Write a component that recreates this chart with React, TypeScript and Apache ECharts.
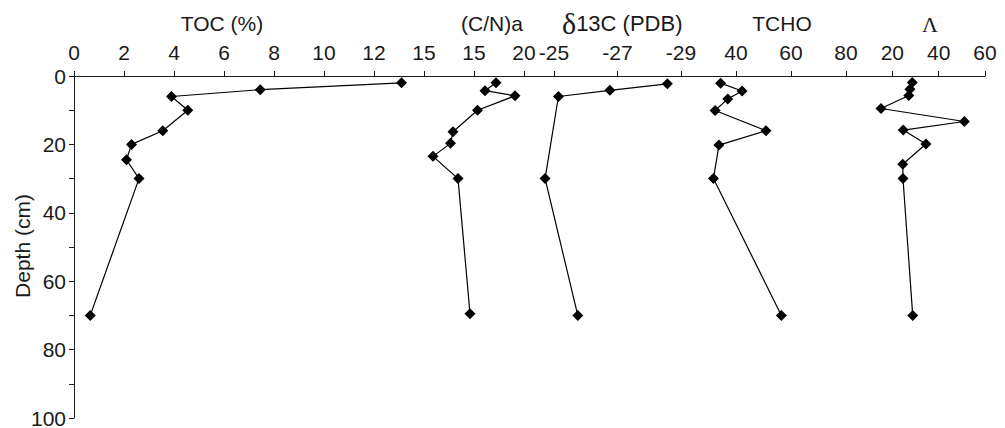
import React, { useEffect, useRef } from 'react';
import * as echarts from 'echarts';

// ---- data (depth in cm) ----
const tocDepth = [2, 4, 6, 10, 16, 20, 24.5, 30, 70];
const tocValues = [13.1, 7.45, 3.9, 4.55, 3.55, 2.3, 2.1, 2.6, 0.65];

const cnDepth = [2, 4.3, 5.8, 10, 16.3, 19.7, 23.5, 30, 69.5];
const cnValues = [17.2, 16.1, 19.1, 15.35, 12.9, 12.65, 10.9, 13.4, 14.6];

const d13cDepth = [2.3, 4.2, 6, 30, 70];
const d13cValues = [-28.57, -26.76, -25.14, -24.72, -25.75];

const tchoDepth = [2.1, 4.4, 6.7, 10.1, 16, 20.2, 30, 70];
const tchoValues = [34.4, 42.2, 37, 32.4, 50.9, 33.8, 31.8, 56.5];

const lambdaDepth = [1.9, 3.9, 5.7, 9.5, 13.3, 15.8, 19.9, 25.8, 30, 70];
const lambdaValues = [28.6, 27.6, 27.1, 15.1, 51.1, 24.7, 34.5, 24.5, 24.6, 28.8];

// ---- tick labels (value -> text) ----
const tocTickLabels: [number, string][] = [[0, '0'], [2, '2'], [4, '4'], [6, '6'], [8, '8'], [10, '10'], [12, '12']];
const cnTickLabels: [number, string][] = [[10, '15'], [15, '15'], [20, '20']];
const d13cTicks = [-29, -27, -25];
const d13cTickLabels: [number, string][] = [[-25, '-25'], [-27, '-27'], [-29, '-29']];
const tchoTickLabels: [number, string][] = [[40, '40'], [60, '60'], [80, '80']];
const lambdaTickLabels: [number, string][] = [[20, '20'], [40, '40'], [60, '60']];
const depthTickLabels: [number, string][] = [[0, '0'], [20, '20'], [40, '40'], [60, '60'], [80, '80'], [100, '100']];

const SANS = '"Liberation Sans", Arial, sans-serif';
const SERIF = '"Liberation Serif", "Times New Roman", serif';
const INK = '#1a1a1a';

function labeler(pairs: [number, string][]) {
  return (v: number) => {
    const p = pairs.find((q) => Math.abs(q[0] - v) < 1e-6);
    return p ? p[1] : '';
  };
}

function zip(xs: number[], ys: number[]) {
  return xs.map((x, i) => [x, ys[i]]);
}

export default function App() {
  const ref = useRef<HTMLDivElement>(null);
  useEffect(() => {
    if (!ref.current) return;
    const chart = echarts.init(ref.current, undefined, { renderer: 'svg' });

    const top = 76;
    const height = 342;
    const panels: any[] = [
      { left: 74, width: 350, min: 0, max: 14, interval: 2, inverse: false, labels: tocTickLabels, xs: tocValues, ys: tocDepth },
      { left: 424, width: 130, min: 10, max: 23, interval: 5, inverse: false, labels: cnTickLabels, xs: cnValues, ys: cnDepth },
      { left: 538.1, width: 142.9, min: -29, max: -24.5, interval: 2, inverse: true, labels: d13cTickLabels, xs: d13cValues, ys: d13cDepth, custom: d13cTicks },
      { left: 681, width: 165, min: 20, max: 80, interval: 20, inverse: false, labels: tchoTickLabels, xs: tchoValues, ys: tchoDepth },
      { left: 846, width: 139, min: 0, max: 60, interval: 20, inverse: false, labels: lambdaTickLabels, xs: lambdaValues, ys: lambdaDepth },
    ];

    const axisLineStyle = { color: INK, width: 1 };

    const option: any = {
      animation: false,
      backgroundColor: '#ffffff',
      textStyle: { fontFamily: SANS },
      grid: panels.map((p) => ({
        left: p.left,
        width: p.width,
        top,
        height,
        containLabel: false,
        outerBoundsMode: 'none',
      })),
      xAxis: panels.map((p, i) => {
        const tick: any = { show: true, inside: false, length: 5, lineStyle: axisLineStyle };
        const label: any = {
          show: true,
          margin: 13,
          fontSize: 21,
          fontFamily: SANS,
          color: INK,
          formatter: labeler(p.labels),
        };
        if (p.custom) {
          tick.customValues = p.custom;
          label.customValues = p.custom;
        }
        return {
          type: 'value',
          gridIndex: i,
          position: 'top',
          min: p.min,
          max: p.max,
          interval: p.interval,
          inverse: p.inverse,
          axisLine: { show: true, onZero: false, lineStyle: axisLineStyle },
          axisTick: tick,
          axisLabel: label,
          splitLine: { show: false },
        };
      }),
      yAxis: panels.map((p, i) => ({
        type: 'value',
        gridIndex: i,
        min: 0,
        max: 100,
        interval: 10,
        inverse: true,
        show: i === 0,
        axisLine: { show: true, onZero: false, lineStyle: axisLineStyle },
        axisTick: { show: true, inside: false, length: 5, lineStyle: axisLineStyle },
        axisLabel: {
          show: true,
          margin: 8,
          fontSize: 21,
          fontFamily: SANS,
          color: INK,
          formatter: labeler(depthTickLabels),
        },
        splitLine: { show: false },
      })),
      series: panels.map((p, i) => ({
        type: 'line',
        xAxisIndex: i,
        yAxisIndex: i,
        data: zip(p.xs, p.ys),
        clip: false,
        symbol: 'diamond',
        symbolSize: 11,
        showSymbol: true,
        itemStyle: { color: '#000' },
        lineStyle: { color: '#000', width: 1.2 },
      })),
      graphic: [
        { type: 'text', x: 22, y: 246, rotation: Math.PI / 2, style: { text: 'Depth (cm)', font: `21px ${SANS}`, fill: INK, textAlign: 'center', textVerticalAlign: 'middle' } },
        { type: 'text', x: 222, y: 23, style: { text: 'TOC (%)', font: `21px ${SANS}`, fill: INK, textAlign: 'center', textVerticalAlign: 'middle' } },
        { type: 'text', x: 492, y: 23, style: { text: '(C/N)a', font: `21px ${SANS}`, fill: INK, textAlign: 'center', textVerticalAlign: 'middle' } },
        {
          type: 'text',
          x: 562,
          y: 23,
          style: {
            text: '{d|δ}{s|13C (PDB)}',
            textAlign: 'left',
            textVerticalAlign: 'middle',
            fill: INK,
            rich: {
              d: { fontFamily: SERIF, fontSize: 30, fill: INK, color: INK },
              s: { fontFamily: SANS, fontSize: 22, fill: INK, color: INK },
            },
          },
        },
        { type: 'text', x: 782, y: 23, style: { text: 'TCHO', font: `21px ${SANS}`, fill: INK, textAlign: 'center', textVerticalAlign: 'middle' } },
        { type: 'text', x: 930, y: 24, style: { text: 'Λ', font: `22px ${SERIF}`, fill: INK, textAlign: 'center', textVerticalAlign: 'middle' } },
      ],
    };

    chart.setOption(option);
    return () => chart.dispose();
  }, []);

  return (
    <div
      ref={ref}
      style={{ position: 'absolute', left: 0, top: 0, width: 1005, height: 428, background: '#fff' }}
    />
  );
}
